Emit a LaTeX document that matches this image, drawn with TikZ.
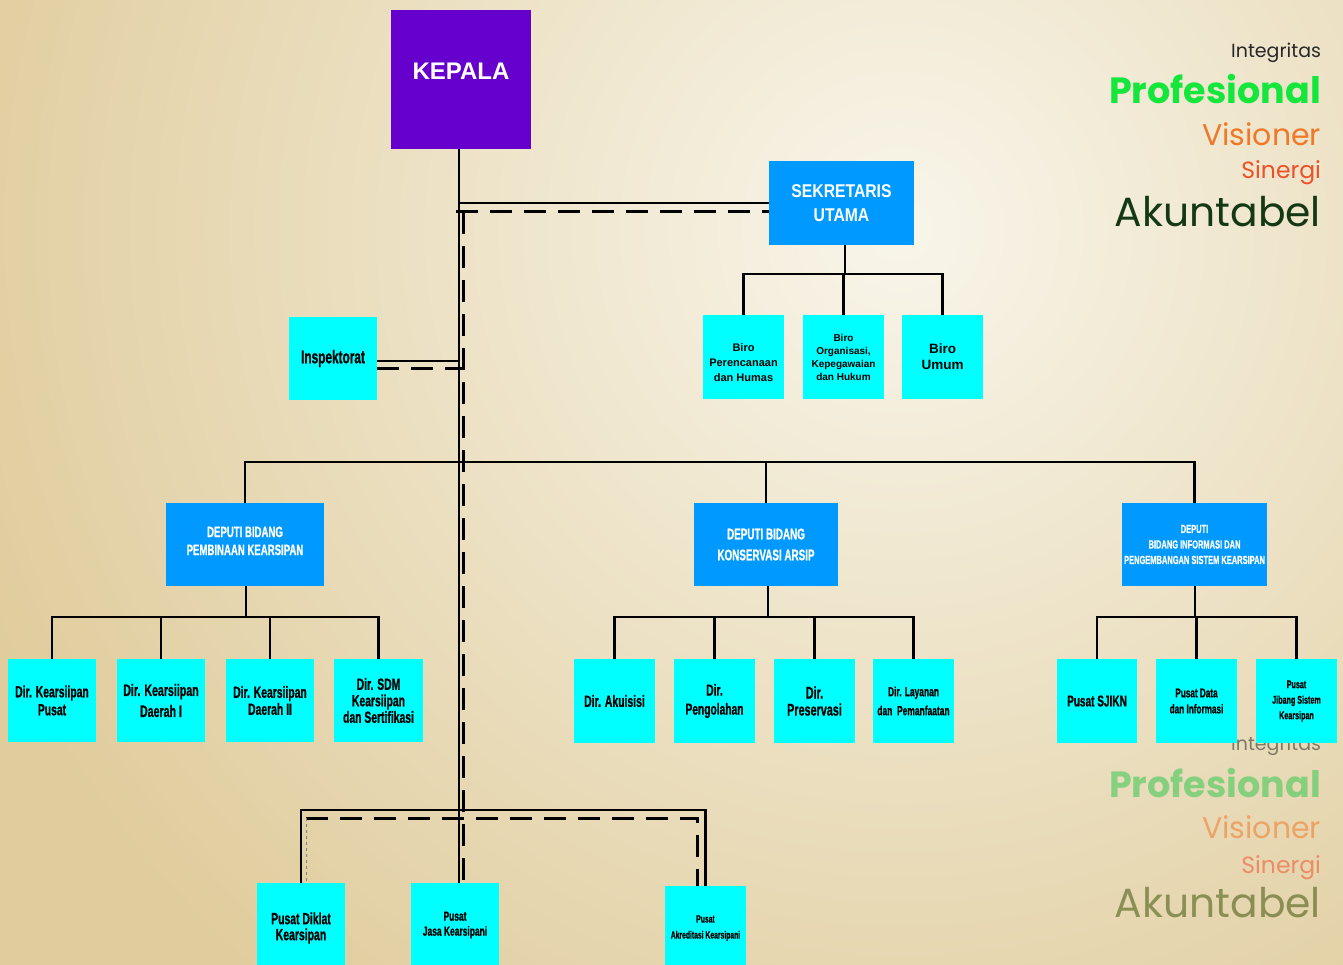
\documentclass[tikz,border=0pt]{standalone}
\usepackage{fontspec}
\setmainfont{Liberation Sans}
\newfontfamily\nar[FakeStretch=0.64,FakeBold=0.8]{Liberation Sans}
\newfontfamily\semi[FakeStretch=0.85]{Liberation Sans}
\newfontfamily\pop{Poppins}
\usetikzlibrary{calc}
\definecolor{kepalac}{RGB}{102,0,204}
\definecolor{dblue}{RGB}{0,153,255}
\definecolor{cyanbox}{RGB}{0,255,255}
\definecolor{bgtan}{RGB}{224,204,156}
\definecolor{bgcream}{RGB}{248,245,234}
\definecolor{tgray}{RGB}{40,40,40}
\definecolor{tgreen}{RGB}{20,230,60}
\definecolor{torange}{RGB}{240,120,40}
\definecolor{tred}{RGB}{238,80,40}
\definecolor{tdark}{RGB}{20,55,20}
\newcommand\fs[2]{\fontsize{#1}{#2}\selectfont}
\newcommand\sh[3]{\raisebox{#1}[0pt][0pt]{\parbox[c]{#2}{\centering #3}}}
\begin{document}
\begin{tikzpicture}[x=1pt,y=-1pt,
  box/.style={anchor=north west, inner sep=0pt, outer sep=0pt, align=center, text=black},
  cbox/.style={box, fill=cyanbox},
  bbox/.style={box, fill=dblue, text=white},
  ln/.style={line width=2.4pt, black},
  dl/.style={line width=3pt, black, dash pattern=on 22pt off 12pt},
  vtxt/.style={anchor=base east, inner sep=0pt, outer sep=0pt},
]
\useasboundingbox (0,0) rectangle (1343,965);
% background
\fill[bgtan] (0,0) rectangle (1343,965);
\begin{scope}
  \clip (0,0) rectangle (1343,965);
  \shade[inner color=bgcream, outer color=bgtan] (900,230) circle (1000);
\end{scope}

% faded copy of values
\begin{scope}[opacity=0.55]
\node[vtxt, font=\pop\fs{19}{19}, text=tgray] (f1) at (1321,750) {Integritas};
\node[vtxt, font=\pop\bfseries\fs{36.5}{36.5}, text=tgreen!70!gray] (f2) at (1321,797) {Profesional};
\node[vtxt, font=\pop\fs{30}{30}, text=torange] (f3) at (1321,838) {Visioner};
\node[vtxt, font=\pop\fs{23.5}{23.5}, text=tred] (f4) at (1321,873) {Sinergi};
\node[vtxt, font=\pop\fs{40.8}{40.8}, text=tdark!60!olive] (f5) at (1321,917) {Akuntabel};
\end{scope}

% values
\node[vtxt, font=\pop\fs{19}{19}, text=tgray] (v1) at (1321,58) {Integritas};
\node[vtxt, font=\pop\bfseries\fs{36.5}{36.5}, text=tgreen] (v2) at (1321,104) {Profesional};
\node[vtxt, font=\pop\fs{30}{30}, text=torange] (v3) at (1321,146) {Visioner};
\node[vtxt, font=\pop\fs{23.5}{23.5}, text=tred] (v4) at (1321,179) {Sinergi};
\node[vtxt, font=\pop\fs{40.8}{40.8}, text=tdark] (v5) at (1321,227) {Akuntabel};

% boxes
\node[box, fill=kepalac, text=white, minimum width=140pt, minimum height=139pt,
      font=\bfseries\fs{24}{24}] (kepala) at (391,10) {\raisebox{0pt}[0pt][0pt]{KEPALA}};
\node[bbox, minimum width=145pt, minimum height=84pt, font=\semi\bfseries\fs{18.5}{24}] (sek) at (769,161) {SEKRETARIS\\UTAMA};
\node[cbox, minimum width=88pt, minimum height=83pt, font=\nar\bfseries\fs{18.5}{18}] (insp) at (289,317) {Inspektorat};
\node[cbox, minimum width=81pt, minimum height=84pt, font=\bfseries\fs{11}{15}] (b1) at (703,315) {\sh{-8pt}{80pt}{Biro\\Perencanaan\\dan Humas}};
\node[cbox, minimum width=81pt, minimum height=84pt, font=\bfseries\fs{10}{13}] (b2) at (803,315) {Biro\\Organisasi,\\Kepegawaian\\dan Hukum};
\node[cbox, minimum width=81pt, minimum height=84pt, font=\bfseries\fs{13.5}{16}] (b3) at (902,315) {Biro\\Umum};

\node[bbox, minimum width=158pt, minimum height=83pt, font=\nar\bfseries\fs{15}{18}] (d1) at (166,503) {\sh{0pt}{156pt}{DEPUTI BIDANG\\PEMBINAAN KEARSIPAN}};
\node[bbox, minimum width=144pt, minimum height=83pt, font=\nar\bfseries\fs{15.4}{21}] (d2) at (694,503) {DEPUTI BIDANG\\KONSERVASI ARSIP};
\node[bbox, minimum width=145pt, minimum height=83pt, font=\nar\bfseries\fs{11.7}{15.5}] (d3) at (1122,503) {DEPUTI\\BIDANG INFORMASI DAN\\PENGEMBANGAN SISTEM KEARSIPAN};

\node[cbox, minimum width=88pt, minimum height=83pt, font=\nar\bfseries\fs{16.2}{18}] (a1) at (8,659) {Dir. Kearsiipan\\Pusat};
\node[cbox, minimum width=88pt, minimum height=83pt, font=\nar\bfseries\fs{16.6}{21}] (a2) at (117,659) {Dir. Kearsiipan\\Daerah I};
\node[cbox, minimum width=88pt, minimum height=83pt, font=\nar\bfseries\fs{16.2}{17}] (a3) at (226,659) {Dir. Kearsiipan\\Daerah II};
\node[cbox, minimum width=89pt, minimum height=83pt, font=\nar\bfseries\fs{16.2}{16.5}] (a4) at (334,659) {Dir. SDM\\Kearsiipan\\dan Sertifikasi};

\node[cbox, minimum width=81pt, minimum height=84pt, font=\nar\bfseries\fs{16.3}{18}] (c1) at (574,659) {Dir. Akuisisi};
\node[cbox, minimum width=81pt, minimum height=84pt, font=\nar\bfseries\fs{16}{19}] (c2) at (674,659) {Dir.\\Pengolahan};
\node[cbox, minimum width=81pt, minimum height=84pt, font=\nar\bfseries\fs{16.9}{17}] (c3) at (774,659) {Dir.\\Preservasi};
\node[cbox, minimum width=81pt, minimum height=84pt, font=\nar\bfseries\fs{13.2}{19}] (c4) at (873,659) {Dir. Layanan\\dan\ \ Pemanfaatan};

\node[cbox, minimum width=80pt, minimum height=84pt, font=\nar\bfseries\fs{15.7}{18}] (e1) at (1057,659) {Pusat SJIKN};
\node[cbox, minimum width=81pt, minimum height=84pt, font=\nar\bfseries\fs{12.8}{16}] (e2) at (1156,659) {Pusat Data\\dan Informasi};
\node[cbox, minimum width=81pt, minimum height=84pt, font=\nar\bfseries\fs{11.2}{15.5}] (e3) at (1256,659) {Pusat\\Jibang Sistem\\Kearsipan};

\node[cbox, minimum width=88pt, minimum height=90pt, font=\nar\bfseries\fs{16.3}{16}] (p1) at (257,883) {Pusat Diklat\\Kearsipan};
\node[cbox, minimum width=88pt, minimum height=84pt, font=\nar\bfseries\fs{13.2}{15}] (p2) at (411,883) {Pusat\\Jasa Kearsipani};
\node[cbox, minimum width=81pt, minimum height=84pt, font=\nar\bfseries\fs{10.6}{16}] (p3) at (665,886) {Pusat\\Akreditasi Kearsipani};

% connectors
\coordinate (vtop) at (459,149);
\coordinate (vbot) at (459,883);
\draw[ln] (vtop) -- (vbot);
\coordinate (dtop) at (463,212);
\coordinate (dbot) at (463,883);
\draw[dl] (dtop) -- (dbot);

\coordinate (s1) at (459,203);
\draw[ln] (s1) -- (s1 -| sek.west);
\coordinate (s2) at (456,212);
\draw[dl] (s2) -- (s2 -| sek.west);

\coordinate (i1) at (459,361);
\draw[ln] (insp.east |- i1) -- (i1);
\coordinate (i2) at (463,368);
\draw[dl] (insp.east |- i2) -- (i2);

\coordinate (sj) at (845,274);
\draw[ln] (sj |- sek.south) -- (sj);
\draw[ln] (b1.north) -- (b1.north |- sj) -- (b3.north |- sj) -- (b3.north);
\draw[ln] (b2.north) -- (b2.north |- sj);

\coordinate (hj) at (459,462);
\draw[ln] (d1.north) -- (d1.north |- hj) -- (d3.north |- hj) -- (d3.north);
\draw[ln] (d2.north) -- (d2.north |- hj);

\coordinate (r1) at (246,617);
\draw[ln] (r1 |- d1.south) -- (r1);
\draw[ln] (a1.north) -- (a1.north |- r1) -- (a4.north |- r1) -- (a4.north);
\draw[ln] (a2.north) -- (a2.north |- r1);
\draw[ln] (a3.north) -- (a3.north |- r1);

\coordinate (r2) at (768,617);
\draw[ln] (r2 |- d2.south) -- (r2);
\draw[ln] (c1.north) -- (c1.north |- r2) -- (c4.north |- r2) -- (c4.north);
\draw[ln] (c2.north) -- (c2.north |- r2);
\draw[ln] (c3.north) -- (c3.north |- r2);

\coordinate (r3) at (1195,617);
\draw[ln] (r3 |- d3.south) -- (r3);
\draw[ln] (e1.north) -- (e1.north |- r3) -- (e3.north |- r3) -- (e3.north);
\draw[ln] (e2.north) -- (e2.north |- r3);

\coordinate (bj) at (459,810);
\draw[ln] (p1.north) -- (p1.north |- bj) -- (p3.north |- bj) -- (p3.north);
\coordinate (bl) at (306,818);
\coordinate (br) at (697,818);
\draw[dl] (bl) -- (br) -- (br |- p3.north);
\draw[line width=0.6pt, gray, dashed] (bl) -- (bl |- p1.north);
\end{tikzpicture}
\end{document}
